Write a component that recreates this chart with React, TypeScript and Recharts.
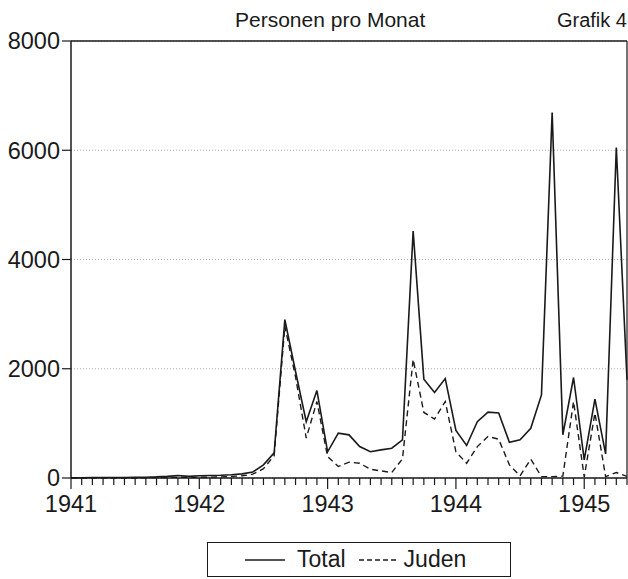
import React from 'react';
import { LineChart, Line, XAxis, YAxis, CartesianGrid, ReferenceLine } from 'recharts';

// Monthly counts, Jan 1941 .. May 1945
const monthIndex = Array.from({ length: 53 }, (_, i) => i);
const total = [
  5, 5, 8, 8, 10, 10, 12, 15, 20, 30, 45, 30,
  40, 45, 50, 60, 75, 110, 240, 460, 2900, 1950, 1030, 1600,
  480, 820, 790, 575, 480, 515, 545, 700, 4520, 1810, 1565, 1820,
  870, 595, 1030, 1205, 1190, 655, 700, 910, 1520, 6690, 790, 1840,
  330, 1445, 440, 6050, 1800,
];
const juden = [
  0, 0, 0, 0, 0, 0, 0, 5, 8, 10, 15, 10,
  12, 15, 20, 30, 40, 70, 170, 410, 2780, 1850, 730, 1400,
  390, 210, 290, 270, 160, 130, 100, 350, 2170, 1200, 1080, 1400,
  480, 270, 575, 760, 710, 240, 40, 345, 25, 25, 35, 1400,
  20, 1190, 25, 100, 30,
];
const yearLabels = ['1941', '1942', '1943', '1944', '1945'];
const yTicks = [0, 2000, 4000, 6000, 8000];

const data = monthIndex.map((i) => ({ i, total: total[i], juden: juden[i] }));

const FONT = '"Liberation Sans", Arial, Helvetica, sans-serif';
const INK = '#1a1a1a';

const XTick = (props: any) => {
  const { x, y, payload } = props;
  const v = payload.value as number;
  if (v % 12 !== 0) return null;
  return (
    <g>
      <line x1={x} x2={x} y1={y} y2={y + 4} stroke={INK} strokeWidth={1.2} />
      <text x={x} y={y + 27} textAnchor="middle" fontSize={23.5} fontFamily={FONT} fill={INK}>
        {yearLabels[v / 12]}
      </text>
    </g>
  );
};

const YTick = (props: any) => {
  const { x, y, payload } = props;
  return (
    <text x={x} y={y + 8.3} textAnchor="end" fontSize={23.5} fontFamily={FONT} fill={INK}>
      {payload.value}
    </text>
  );
};

export default function App() {
  return (
    <div style={{ position: 'absolute', left: 0, top: 0, width: 628, height: 579, background: '#fff', fontFamily: FONT }}>
      <div style={{ position: 'absolute', left: 235, top: 9, fontSize: 21, lineHeight: 1, color: INK, whiteSpace: 'nowrap' }}>
        Personen pro Monat
      </div>
      <div style={{ position: 'absolute', right: 1, top: 10, fontSize: 20, lineHeight: 1, color: INK, whiteSpace: 'nowrap' }}>
        Grafik 4
      </div>
      <LineChart width={628} height={579} data={data} margin={{ top: 41, right: 1, left: 0, bottom: 41 }}>
        <CartesianGrid vertical={false} stroke="#aaa" strokeDasharray="1 2" />
        <XAxis
          dataKey="i"
          type="number"
          domain={[0, 52]}
          ticks={monthIndex}
          interval={0}
          height={60}
          tickSize={7}
          tickMargin={0}
          tickLine={{ stroke: INK, strokeWidth: 1.2 }}
          axisLine={{ stroke: INK, strokeWidth: 1.5 }}
          tick={<XTick />}
        />
        <YAxis
          type="number"
          domain={[0, 8000]}
          ticks={yTicks}
          width={71}
          tickSize={9}
          tickMargin={2}
          tickLine={{ stroke: INK, strokeWidth: 1.2 }}
          axisLine={{ stroke: INK, strokeWidth: 1.5 }}
          tick={<YTick />}
        />
        <ReferenceLine y={8000} stroke={INK} strokeWidth={1.5} />
        <ReferenceLine x={52} stroke={INK} strokeWidth={1.2} />
        <Line
          type="linear"
          dataKey="juden"
          stroke={INK}
          strokeWidth={1.4}
          strokeDasharray="6 4"
          dot={false}
          isAnimationActive={false}
        />
        <Line
          type="linear"
          dataKey="total"
          stroke={INK}
          strokeWidth={1.6}
          dot={false}
          isAnimationActive={false}
        />
      </LineChart>
      <div
        style={{
          position: 'absolute',
          left: 207,
          top: 542,
          width: 304,
          height: 35,
          border: `1px solid ${INK}`,
          display: 'flex',
          alignItems: 'center',
          paddingLeft: 37,
          boxSizing: 'border-box',
          fontSize: 23,
          color: INK,
        }}
      >
        <svg width={40} height={4} style={{ display: 'block' }}>
          <line x1={0} x2={40} y1={2} y2={2} stroke={INK} strokeWidth={1.4} />
        </svg>
        <span style={{ marginLeft: 12 }}>Total</span>
        <svg width={38} height={4} style={{ display: 'block', marginLeft: 13 }}>
          <line x1={0} x2={38} y1={2} y2={2} stroke={INK} strokeWidth={1.4} strokeDasharray="5 3" />
        </svg>
        <span style={{ marginLeft: 7 }}>Juden</span>
      </div>
    </div>
  );
}
